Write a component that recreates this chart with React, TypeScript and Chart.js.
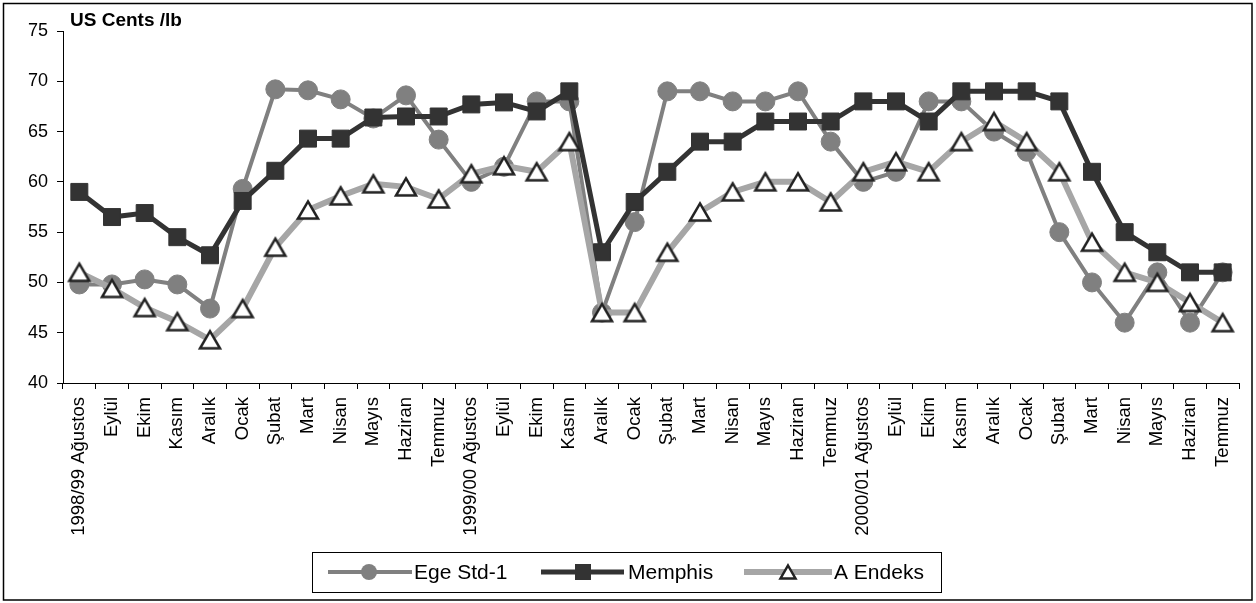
import React, { useEffect, useRef } from "react";
import { Chart, registerables } from "chart.js";

Chart.register(...registerables);

const categories: string[] = [
  "1998/99 Ağustos", "Eylül", "Ekim", "Kasım", "Aralık", "Ocak", "Şubat", "Mart", "Nisan", "Mayıs", "Haziran", "Temmuz",
  "1999/00 Ağustos", "Eylül", "Ekim", "Kasım", "Aralık", "Ocak", "Şubat", "Mart", "Nisan", "Mayıs", "Haziran", "Temmuz",
  "2000/01 Ağustos", "Eylül", "Ekim", "Kasım", "Aralık", "Ocak", "Şubat", "Mart", "Nisan", "Mayıs", "Haziran", "Temmuz",
];

const egeStd1: number[] = [
  49.8, 49.8, 50.3, 49.8, 47.4, 59.3, 69.2, 69.1, 68.2, 66.3, 68.6, 64.2,
  60.0, 61.5, 68.0, 68.0, 47, 56, 69, 69, 68, 68, 69, 64,
  60, 61, 68, 68, 65, 63, 55, 50, 46, 51, 46, 51,
];

const memphis: number[] = [
  59, 56.5, 56.9, 54.5, 52.7, 58.1, 61.1, 64.3, 64.3, 66.4, 66.5, 66.5,
  67.7, 67.9, 67.0, 69.0, 53, 58, 61, 64, 64, 66, 66, 66,
  68, 68, 66, 69, 69, 69, 68, 61, 55, 53, 51, 51,
];

const aEndeks: number[] = [
  51.0, 49.4, 47.5, 46.1, 44.3, 47.4, 53.5, 57.2, 58.6, 59.8, 59.5, 58.3,
  60.8, 61.6, 61.0, 64.0, 47, 47, 53, 57, 59, 60, 60, 58,
  61, 62, 61, 64, 66, 64, 61, 54, 51, 50, 48, 46,
];

const yTicks: number[] = [40, 45, 50, 55, 60, 65, 70, 75];

const seriesNames: string[] = ["Ege Std-1", "Memphis", "A Endeks"];

const FONT = "'Liberation Sans', Arial, sans-serif";
const EGE_COLOR = "#808080";
const MEM_COLOR = "#333333";
const AEN_COLOR = "#a6a6a6";

function makeTriangle(): HTMLCanvasElement {
  const c = document.createElement("canvas");
  c.width = 26;
  c.height = 24;
  const ctx = c.getContext("2d")!;
  const cx = 13;
  const cy = 12;
  const hw = 10;
  const hh = 8.6;
  ctx.beginPath();
  ctx.moveTo(cx, cy - hh);
  ctx.lineTo(cx + hw, cy + hh);
  ctx.lineTo(cx - hw, cy + hh);
  ctx.closePath();
  ctx.fillStyle = "#ffffff";
  ctx.fill();
  ctx.lineWidth = 2.5;
  ctx.lineJoin = "miter";
  ctx.strokeStyle = "#222222";
  ctx.stroke();
  return c;
}

export default function App() {
  const ref = useRef<HTMLCanvasElement | null>(null);

  useEffect(() => {
    if (!ref.current) return;
    const tri = makeTriangle();

    const decor = {
      id: "decor",
      afterDraw(chart: any) {
        const ctx = chart.ctx as CanvasRenderingContext2D;
        ctx.save();
        // outer border
        ctx.strokeStyle = "#000";
        ctx.lineWidth = 1.5;
        ctx.strokeRect(3.5, 3.5, 1248.5, 596.5);
        // title
        ctx.fillStyle = "#000";
        ctx.font = `bold 19px ${FONT}`;
        ctx.textBaseline = "alphabetic";
        ctx.textAlign = "left";
        ctx.fillText("US Cents /lb", 70, 26);
        // legend box
        ctx.lineWidth = 1;
        ctx.strokeStyle = "#000";
        ctx.strokeRect(312.5, 552.5, 629, 40);
        const ly = 572;
        // Ege
        ctx.strokeStyle = EGE_COLOR;
        ctx.lineWidth = 4;
        ctx.beginPath();
        ctx.moveTo(328, ly);
        ctx.lineTo(412, ly);
        ctx.stroke();
        ctx.fillStyle = EGE_COLOR;
        ctx.beginPath();
        ctx.arc(369, ly, 8, 0, Math.PI * 2);
        ctx.fill();
        // Memphis
        ctx.strokeStyle = MEM_COLOR;
        ctx.lineWidth = 5;
        ctx.beginPath();
        ctx.moveTo(541, ly);
        ctx.lineTo(624, ly);
        ctx.stroke();
        ctx.fillStyle = MEM_COLOR;
        ctx.fillRect(575, ly - 8, 16, 16);
        // A Endeks
        ctx.strokeStyle = AEN_COLOR;
        ctx.lineWidth = 6;
        ctx.beginPath();
        ctx.moveTo(744, ly);
        ctx.lineTo(832, ly);
        ctx.stroke();
        ctx.beginPath();
        ctx.moveTo(788, ly - 6.5);
        ctx.lineTo(795.5, ly + 6.5);
        ctx.lineTo(780.5, ly + 6.5);
        ctx.closePath();
        ctx.fillStyle = "#fff";
        ctx.fill();
        ctx.lineWidth = 2.5;
        ctx.strokeStyle = "#222";
        ctx.stroke();
        // legend text
        ctx.fillStyle = "#000";
        ctx.font = `21px ${FONT}`;
        ctx.fillText(seriesNames[0], 414, 579);
        ctx.fillText(seriesNames[1], 628, 579);
        ctx.fillText(seriesNames[2], 834, 579);
        ctx.restore();
      },
    };

    const chart = new Chart(ref.current, {
      type: "line",
      data: {
        labels: categories,
        datasets: [
          {
            label: seriesNames[0],
            data: egeStd1,
            borderColor: EGE_COLOR,
            backgroundColor: EGE_COLOR,
            borderWidth: 4,
            pointStyle: "circle",
            pointRadius: 9.5,
            pointBorderWidth: 1,
            pointBackgroundColor: EGE_COLOR,
            pointBorderColor: EGE_COLOR,
            tension: 0,
            order: 3,
          },
          {
            label: seriesNames[1],
            data: memphis,
            borderColor: MEM_COLOR,
            backgroundColor: MEM_COLOR,
            borderWidth: 5,
            pointStyle: "rect",
            pointRadius: 12,
            pointBorderWidth: 1,
            pointBackgroundColor: MEM_COLOR,
            pointBorderColor: MEM_COLOR,
            tension: 0,
            order: 2,
          },
          {
            label: seriesNames[2],
            data: aEndeks,
            borderColor: AEN_COLOR,
            backgroundColor: AEN_COLOR,
            borderWidth: 6,
            pointStyle: tri as any,
            pointRadius: 11,
            tension: 0,
            order: 1,
          },
        ],
      },
      options: {
        responsive: false,
        animation: false,
        events: [],
        layout: { padding: { top: 31, right: 5, left: 0, bottom: 0 } },
        plugins: {
          legend: { display: false },
          tooltip: { enabled: false },
          title: { display: false },
        },
        scales: {
          x: {
            type: "category",
            offset: true,
            grid: {
              display: true,
              offset: true,
              drawOnChartArea: false,
              drawTicks: true,
              tickLength: 6,
              color: "#000",
            },
            border: { display: true, color: "#000", width: 1 },
            ticks: {
              autoSkip: false,
              minRotation: 90,
              maxRotation: 90,
              padding: 8,
              color: "#000",
              font: { family: FONT, size: 18.5 },
            },
            afterFit: (scale: any) => {
              scale.height = 220;
              scale.paddingLeft = 0;
              scale.paddingRight = 0;
            },
          },
          y: {
            min: 40,
            max: 75,
            afterBuildTicks: (scale: any) => {
              scale.ticks = yTicks.map((v) => ({ value: v }));
            },
            grid: {
              display: true,
              drawOnChartArea: false,
              drawTicks: true,
              tickLength: 6,
              color: "#000",
            },
            border: { display: true, color: "#000", width: 1 },
            ticks: {
              padding: 9,
              color: "#000",
              font: { family: FONT, size: 18 },
            },
            afterFit: (scale: any) => {
              scale.width = 63;
            },
          },
        },
      },
      plugins: [decor],
    });

    return () => chart.destroy();
  }, []);

  return (
    <div style={{ position: "absolute", left: 0, top: 0, width: 1256, height: 603, background: "#fff" }}>
      <canvas ref={ref} width={1256} height={603} style={{ width: 1256, height: 603, display: "block" }} />
    </div>
  );
}
